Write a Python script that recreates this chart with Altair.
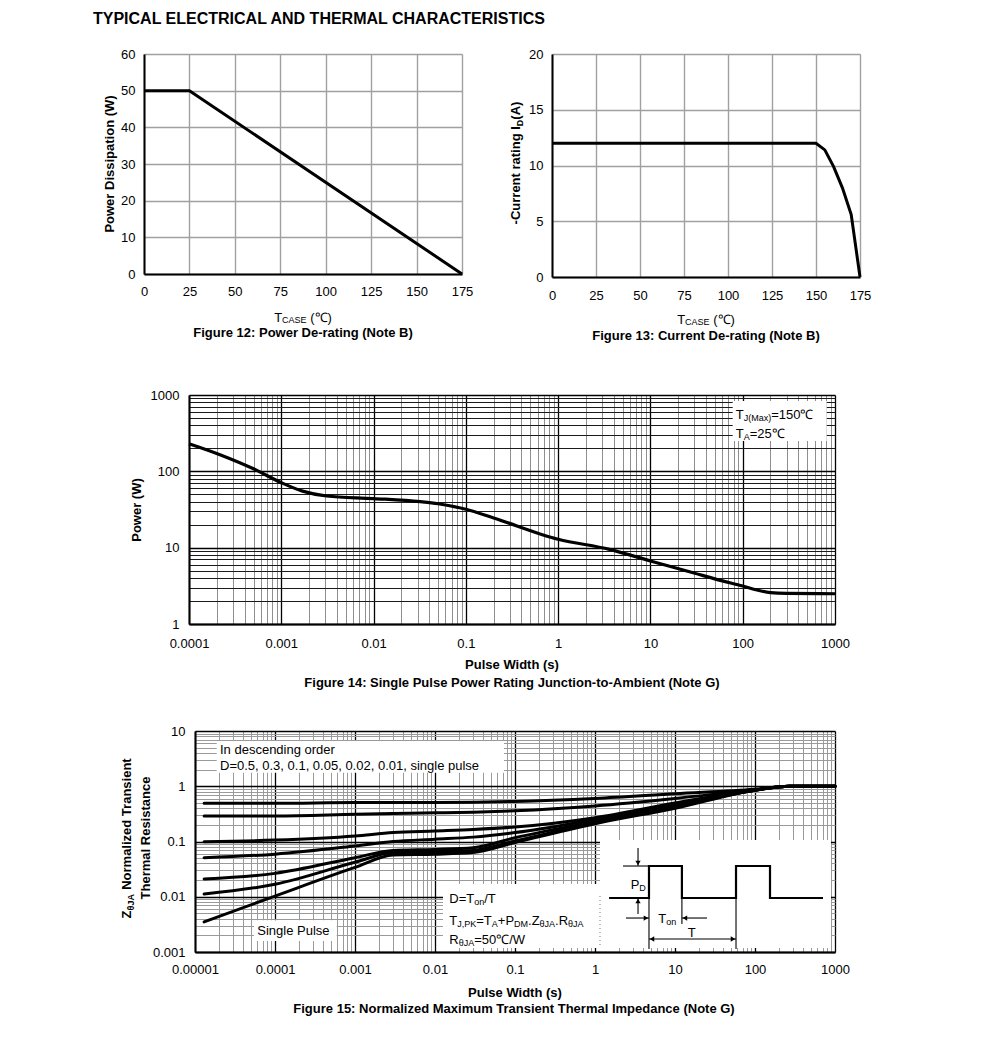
import altair as alt
import pandas as pd

FONT = "Liberation Sans"

# ---------------- data ----------------
# Figure 12: power de-rating
f12_tcase = [0, 25, 175]
f12_power = [50, 50, 0]
f12_xticks = [0, 25, 50, 75, 100, 125, 150, 175]
f12_yticks = [0, 10, 20, 30, 40, 50, 60]

# Figure 13: current de-rating
f13_tcase = [0, 150, 155, 160, 165, 170, 175]
f13_current = [12, 12, 11.4, 9.9, 8.0, 5.6, 0]
f13_xticks = [0, 25, 50, 75, 100, 125, 150, 175]
f13_yticks = [0, 5, 10, 15, 20]

# Figure 14: single pulse power rating
f14_width = [1e-4, 2.2e-4, 5e-4, 1e-3, 1.7e-3, 3.1e-3, 1e-2, 3.2e-2, 5e-2, 0.1, 0.2,
             1, 3.6, 10, 29, 52, 100, 150, 200, 300, 1000]
f14_power = [230, 164, 108, 71, 55, 47.5, 44, 40, 37.6, 31.8, 24.5,
             12.9, 9.5, 6.7, 4.7, 3.84, 3.14, 2.75, 2.58, 2.52, 2.49]

# Figure 15: normalized transient thermal impedance
f15_width = [1.3e-5, 1e-4, 1e-3, 3e-3, 1e-2, 3e-2, 1e-1, 1, 10, 100, 270, 1000]
f15_d05 = [0.49, 0.49, 0.51, 0.51, 0.51, 0.515, 0.53, 0.60, 0.73, 0.88, 1.0, 1.0]
f15_d03 = [0.29, 0.29, 0.31, 0.32, 0.33, 0.34, 0.36, 0.44, 0.60, 0.87, 1.0, 1.0]
f15_d01 = [0.099, 0.106, 0.126, 0.145, 0.155, 0.165, 0.183, 0.27, 0.50, 0.86, 1.0, 1.0]
f15_d005 = [0.051, 0.059, 0.083, 0.100, 0.110, 0.120, 0.145, 0.25, 0.46, 0.85, 1.0, 1.0]
f15_d002 = [0.021, 0.0265, 0.051, 0.069, 0.072, 0.077, 0.117, 0.23, 0.43, 0.85, 1.0, 1.0]
f15_d001 = [0.0112, 0.0168, 0.042, 0.063, 0.065, 0.069, 0.102, 0.22, 0.42, 0.85, 1.0, 1.0]
f15_single = [0.0035, 0.0103, 0.034, 0.057, 0.059, 0.063, 0.096, 0.21, 0.40, 0.85, 1.0, 1.0]
f15_labels = ["0.5", "0.3", "0.1", "0.05", "0.02", "0.01", "single"]

# pulse-train sketch in Figure 15 (in the chart's own units)
pulse_t = [1.5, 4.73, 4.73, 12.2, 12.2, 57.9, 57.9, 154, 154, 708]
pulse_z = [0.0095, 0.0095, 0.036, 0.036, 0.0095, 0.0095, 0.036, 0.036, 0.0095, 0.0095]
guide_t1 = [2.24, 3.45, 3.45, 4.73, 12.2, 57.9, 2.44, 25.1, 4.73]
guide_t2 = [4.73, 3.45, 3.45, 4.73, 12.2, 57.9, 4.73, 12.2, 57.9]
guide_z1 = [0.036, 0.0763, 0.00487, 0.0095, 0.0095, 0.0095, 0.00412, 0.00412, 0.00172]
guide_z2 = [0.036, 0.0365, 0.0093, 0.00113, 0.00321, 0.00113, 0.00412, 0.00412, 0.00172]
head_down = ([3.45], [0.036])
head_up = ([3.45], [0.0095])
head_right = ([4.73, 57.9], [0.00412, 0.00172])
head_left = ([12.2, 4.73], [0.00412, 0.00172])

# ---------------- helpers ----------------
ONE = pd.DataFrame({"a": [0]})

REG = {' ': 278, '(': 333, ')': 333, '+': 584, ',': 278, '-': 333, '.': 278, '/': 278,
       ':': 278, '=': 584, 'A': 667, 'B': 667, 'C': 722, 'D': 722, 'E': 667, 'F': 611,
       'G': 778, 'H': 722, 'I': 278, 'J': 500, 'K': 667, 'L': 556, 'M': 833, 'N': 722,
       'O': 778, 'P': 667, 'R': 722, 'S': 667, 'T': 611, 'W': 944, 'Z': 611, 'a': 556,
       'c': 500, 'd': 556, 'e': 556, 'g': 556, 'i': 222, 'l': 222, 'm': 833, 'n': 556,
       'o': 556, 'p': 556, 'r': 333, 's': 500, 't': 278, 'u': 556, 'x': 500, 'z': 500,
       'θ': 556, '℃': 1000}
BOLD = {' ': 278, '(': 333, ')': 333, '-': 333, 'A': 722, 'C': 722, 'D': 722, 'I': 278,
        'J': 556, 'N': 722, 'R': 722, 'T': 611, 'Z': 611, 'a': 556, 'c': 556, 'd': 611,
        'e': 556, 'g': 611, 'h': 611, 'i': 278, 'l': 278, 'm': 889, 'n': 611, 'o': 611,
        'r': 389, 's': 556, 't': 333, 'u': 611, 'z': 500, 'θ': 611}


def tw(s, size, bold):
    tab = BOLD if bold else REG
    return sum(tab.get(c, 556) for c in s) * size / 1000.0


def txt(x, y, s, size=13, bold=False, align="left", angle=0, baseline="alphabetic"):
    kw = dict(text=s, font=FONT, fontSize=size, fontWeight="bold" if bold else "normal",
              align=align, baseline=baseline, color="black")
    if angle:
        kw["angle"] = angle
    return alt.Chart(ONE).mark_text(**kw).encode(x=alt.value(x), y=alt.value(y))


def comp(x, y, pieces, anchor="left", angle=0):
    total = sum(tw(s, sz, b) for s, sz, b, _ in pieces)
    pos = 0 if anchor == "left" else -total / 2
    out = []
    for s, sz, b, sh in pieces:
        lead = len(s) - len(s.lstrip(" "))
        pos += tw(" " * lead, sz, b)
        s2 = s.lstrip(" ")
        if angle == 0:
            out.append(txt(x + pos, y + sh, s2, sz, b))
        else:
            out.append(txt(x + sh, y - pos, s2, sz, b, angle=270))
        pos += tw(s2, sz, b)
    return out


def box(x1, x2, y1, y2):
    return alt.Chart(ONE).mark_rect(color="white").encode(
        x=alt.value(x1), x2=alt.value(x2), y=alt.value(y1), y2=alt.value(y2))


def lin_axis(values, pad):
    return alt.Axis(values=values, grid=True, gridColor="#a0a0a0", gridWidth=1.4,
                    domain=True, domainColor="black", domainWidth=2, ticks=False,
                    labelPadding=pad, labelFont=FONT, labelFontSize=13, labelColor="black",
                    labelFlush=False, labelOverlap=False)


def log_vals(lo, hi):
    v = []
    for e in range(lo, hi):
        for m in range(1, 10):
            v.append(float(f"{m}e{e}"))
    v.append(float(f"1e{hi}"))
    return v


DEC = "abs(log(datum.value)/LN10 - round(log(datum.value)/LN10)) < 0.001"


def log_axis(values, pad, minor_color, major_color="black"):
    return alt.Axis(values=values, format="~g", labelExpr=f"{DEC} ? datum.label : ''",
                    grid=True,
                    gridColor={"condition": {"test": DEC, "value": major_color}, "value": minor_color},
                    gridWidth={"condition": {"test": DEC, "value": 1.3}, "value": 1},
                    domain=True, domainColor="black", domainWidth=2, ticks=False,
                    labelPadding=pad, labelFont=FONT, labelFontSize=13, labelColor="black",
                    labelFlush=False, labelOverlap=False)


def enc(xsc, xax, ysc, yax):
    return dict(x=alt.X("x:Q", scale=xsc, axis=xax, title=None),
                y=alt.Y("y:Q", scale=ysc, axis=yax, title=None))


TSUB = [("T", 13, False, 0), ("CASE", 9, False, 1), (" (℃)", 13, False, 0)]

# ---------------- Figure 12 ----------------
W12, H12 = 318, 220
e12 = enc(alt.Scale(domain=[0, 175], nice=False, zero=False), lin_axis(f12_xticks, 11),
          alt.Scale(domain=[0, 60], nice=False, zero=False), lin_axis(f12_yticks, 9))
d12 = pd.DataFrame({"x": f12_tcase, "y": f12_power})
line12 = alt.Chart(d12).mark_line(color="black", strokeWidth=3).encode(**e12)
fig12 = alt.layer(
    line12,
    txt(-51, -29.7, "TYPICAL ELECTRICAL AND THERMAL CHARACTERISTICS", 16, True),
    txt(-30, 110, "Power Dissipation (W)", 13, True, "center", 270),
    *comp(W12 / 2, H12 + 47.7, TSUB, "center"),
    txt(W12 / 2, H12 + 63, "Figure 12: Power De-rating (Note B)", 13, True, "center"),
).properties(width=W12, height=H12)

# ---------------- Figure 13 ----------------
W13, H13 = 308, 223
e13 = enc(alt.Scale(domain=[0, 175], nice=False, zero=False), lin_axis(f13_xticks, 12.5),
          alt.Scale(domain=[0, 20], nice=False, zero=False), lin_axis(f13_yticks, 9))
d13 = pd.DataFrame({"x": f13_tcase, "y": f13_current})
line13 = alt.Chart(d13).mark_line(color="black", strokeWidth=3).encode(**e13)
fig13 = alt.layer(
    line13,
    *comp(-32.4, 109, [("-Current rating I", 13, True, 0), ("D", 9, True, 3), ("(A)", 13, True, 0)],
          "center", 270),
    *comp(W13 / 2, H13 + 47.3, TSUB, "center"),
    txt(W13 / 2, H13 + 63, "Figure 13: Current De-rating (Note B)", 13, True, "center"),
).properties(width=W13, height=H13)

# ---------------- Figure 14 ----------------
W14, H14 = 646, 229
e14 = enc(alt.Scale(type="log", domain=[1e-4, 1000], nice=False),
          log_axis(log_vals(-4, 3), 13.4, "#8f8f8f"),
          alt.Scale(type="log", domain=[1, 1000], nice=False),
          log_axis(log_vals(0, 3), 10, "#1a1a1a"))
d14 = pd.DataFrame({"x": f14_width, "y": f14_power})
line14 = alt.Chart(d14).mark_line(color="black", strokeWidth=3.2, interpolate="monotone").encode(**e14)
fig14 = alt.layer(
    box(543.7, 637.7, 6, 46),
    line14,
    *comp(546.7, 24, [("T", 13, False, 0), ("J(Max)", 9, False, 2), ("=150℃", 13, False, 0)]),
    *comp(546.7, 42.7, [("T", 13, False, 0), ("A", 9, False, 2), ("=25℃", 13, False, 0)]),
    txt(-48.3, 115, "Power (W)", 13, True, "center", 270),
    txt(W14 / 2, H14 + 45, "Pulse Width (s)", 13, True, "center"),
    txt(W14 / 2, H14 + 63, "Figure 14: Single Pulse Power Rating Junction-to-Ambient (Note G)",
        13, True, "center"),
).properties(width=W14, height=H14)

# ---------------- Figure 15 ----------------
W15, H15 = 640, 221
xs15 = alt.Scale(type="log", domain=[1e-5, 1000], nice=False)
ys15 = alt.Scale(type="log", domain=[1e-3, 10], nice=False)
e15 = enc(xs15, log_axis(log_vals(-5, 3), 11.4, "#9a9a9a"),
          ys15, log_axis(log_vals(-3, 1), 10, "#9a9a9a"))
series15 = [f15_d05, f15_d03, f15_d01, f15_d005, f15_d002, f15_d001, f15_single]
rows = []
for lab, vals in zip(f15_labels, series15):
    for xv, yv in zip(f15_width, vals):
        rows.append({"D": lab, "x": xv, "y": yv})
d15 = pd.DataFrame(rows)
curves15 = alt.Chart(d15).mark_line(color="black", strokeWidth=3, interpolate="monotone",
                                    strokeCap="round").encode(detail="D:N", **e15)

dpulse = pd.DataFrame({"x": pulse_t, "y": pulse_z, "i": list(range(len(pulse_t)))})
pulse = alt.Chart(dpulse).mark_line(color="black", strokeWidth=2.2).encode(
    order="i:Q", **e15)
dguide = pd.DataFrame({"x": guide_t1, "x2": guide_t2, "y": guide_z1, "y2": guide_z2})
guides = alt.Chart(dguide).mark_rule(color="black", strokeWidth=1.1).encode(
    x2="x2:Q", y2="y2:Q", **e15)


def heads(pts, shape, dx=0, dy=0):
    d = pd.DataFrame({"x": pts[0], "y": pts[1]})
    kw = dict(shape=shape, filled=True, size=28, color="black", opacity=1)
    if dx:
        kw["xOffset"] = dx
    if dy:
        kw["yOffset"] = dy
    return alt.Chart(d).mark_point(**kw).encode(**e15)


dotted = alt.Chart(ONE).mark_rule(color="#777777", strokeDash=[1, 3], strokeWidth=1).encode(
    x=alt.value(405), y=alt.value(165), y2=alt.value(214))

fig15 = alt.layer(
    box(21.7, 309, 10, 41.7),
    box(59, 141.7, 189.3, 210),
    box(248, 405, 153, 217),
    box(405, 636, 109, 217),
    curves15,
    dotted,
    pulse, guides,
    heads(head_down, "triangle-down", dy=-3),
    heads(head_up, "triangle-up", dy=3),
    heads(head_right, "triangle-right", dx=-3),
    heads(head_left, "triangle-left", dx=3),
    txt(25, 22.7, "In descending order"),
    txt(25, 38.7, "D=0.5, 0.3, 0.1, 0.05, 0.02, 0.01, single pulse"),
    txt(62.3, 204, "Single Pulse"),
    *comp(254.3, 171.7, [("D=T", 13, False, 0), ("on", 9, False, 2), ("/T", 13, False, 0)]),
    *comp(254.3, 194.3, [("T", 13, False, 0), ("J,PK", 9, False, 2), ("=T", 13, False, 0),
                         ("A", 9, False, 2), ("+P", 13, False, 0), ("DM", 9, False, 2),
                         (".", 13, False, 0), ("Z", 13, False, 0), ("θJA", 9, False, 2),
                         (".", 13, False, 0), ("R", 13, False, 0), ("θJA", 9, False, 2)]),
    *comp(254.3, 213.3, [("R", 13, False, 0), ("θJA", 9, False, 2), ("=50℃/W", 13, False, 0)]),
    *comp(435.7, 158.3, [("P", 13, False, 0), ("D", 9, False, 2)]),
    *comp(463.3, 191.7, [("T", 13, False, 0), ("on", 9, False, 2)]),
    txt(492.7, 206, "T"),
    *comp(-64, 107, [("Z", 13, True, 0), ("θJA", 9, True, 3), (" Normalized Transient", 13, True, 0)],
          "center", 270),
    txt(-45, 107, "Thermal Resistance", 13, True, "center", 270),
    txt(W15 / 2, H15 + 44.5, "Pulse Width (s)", 13, True, "center"),
    txt(319, H15 + 61, "Figure 15: Normalized Maximum Transient Thermal Impedance (Note G)",
        13, True, "center"),
).properties(width=W15, height=H15)


def spacer():
    return alt.Chart(ONE).mark_point(opacity=0).encode(
        x=alt.value(0), y=alt.value(0)).properties(width=1, height=1)


# with flush bounds a nested row counts as zero height, so spacing = distance between plot tops
row1 = alt.hconcat(fig12, fig13, spacing=90, bounds="flush")
row2 = alt.hconcat(spacer(), fig14, spacing=44, bounds="flush")
row3 = alt.hconcat(spacer(), fig15, spacing=50, bounds="flush")
lower = alt.vconcat(row2, row3, spacing=336, bounds="flush")
chart = alt.vconcat(row1, lower, spacing=341, bounds="flush").properties(
    padding={"left": 85, "top": 3, "right": 5, "bottom": 5}
).configure_view(stroke=None)

chart.save("out.html", embed_options={"renderer": "svg", "actions": False})
